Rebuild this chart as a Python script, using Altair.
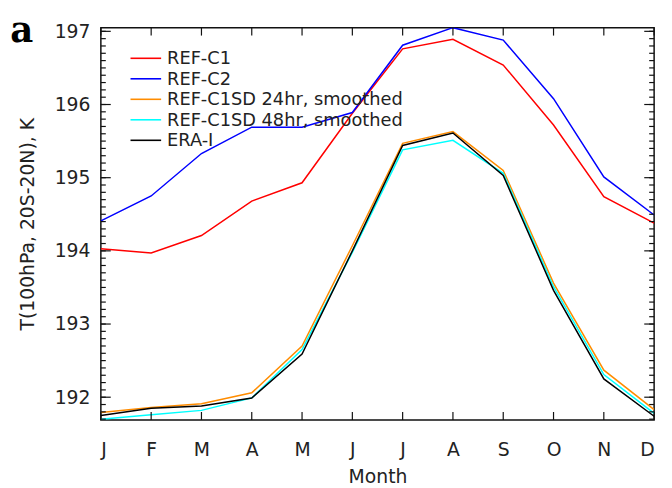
import altair as alt
import pandas as pd
import numpy as np

month_labels = ["J", "F", "M", "A", "M", "J", "J", "A", "S", "O", "N", "D"]
month_num = list(range(1, 13))

series_names = ["REF-C1", "REF-C2", "REF-C1SD 24hr, smoothed",
                "REF-C1SD 48hr, smoothed", "ERA-I"]
series_colors = ["#ff0000", "#0000ff", "#ff8c00", "#00ffff", "#000000"]

ref_c1 = [194.03, 193.97, 194.21, 194.68, 194.93, 195.88, 196.76, 196.89, 196.54, 195.72, 194.74, 194.38]
ref_c2 = [194.41, 194.75, 195.33, 195.69, 195.69, 195.89, 196.81, 197.05, 196.88, 196.08, 195.01, 194.49]
ref_c1sd_24 = [191.79, 191.86, 191.91, 192.06, 192.70, 194.07, 195.47, 195.63, 195.10, 193.56, 192.37, 191.83]
ref_c1sd_48 = [191.70, 191.76, 191.82, 191.99, 192.65, 193.98, 195.38, 195.51, 195.06, 193.51, 192.31, 191.78]
era_i = [191.75, 191.85, 191.88, 191.99, 192.59, 194.00, 195.44, 195.61, 195.03, 193.46, 192.25, 191.74]

y_major = [192, 193, 194, 195, 196, 197]
y_minor = [round(v, 1) for v in np.arange(191.7, 197.05, 0.1)]
y_domain = [191.69, 197.05]

all_values = [ref_c1, ref_c2, ref_c1sd_24, ref_c1sd_48, era_i]
rows = []
for order, (name, vals) in enumerate(zip(series_names, all_values)):
    for m, v in zip(month_num, vals):
        rows.append({"month": m, "T": v, "series": name, "order": order})
df = pd.DataFrame(rows)
legend_df = pd.DataFrame({"series": series_names})

W, H = 560, 397
FONT = "DejaVu Sans"
TXT = "#222222"

label_expr = "[" + ",".join("'%s'" % s for s in month_labels) + "][datum.value - 1]"

x_scale = alt.Scale(domain=[1, 12], nice=False, zero=False)
y_scale = alt.Scale(domain=y_domain, nice=False, zero=False)
color_scale = alt.Scale(domain=series_names, range=series_colors)

lines = alt.Chart(df).mark_line(strokeWidth=1.5, clip=True).encode(
    x=alt.X("month:Q", scale=x_scale,
            axis=alt.Axis(values=month_num, labelExpr=label_expr, title="Month",
                          ticks=False, domain=False, grid=False, labelPadding=21,
                          labelFontSize=19, titleFontSize=19, titlePadding=8,
                          labelFont=FONT, titleFont=FONT, labelColor=TXT,
                          titleColor=TXT, titleFontWeight="normal")),
    y=alt.Y("T:Q", scale=y_scale,
            axis=alt.Axis(values=y_major, format="d", title="T(100hPa, 20S-20N), K",
                          ticks=False, domain=False, grid=False, labelPadding=11,
                          labelFontSize=19, titleFontSize=19, titlePadding=17,
                          labelFont=FONT, titleFont=FONT, labelColor=TXT,
                          titleColor=TXT, titleFontWeight="normal")),
    color=alt.Color("series:N", scale=color_scale, legend=None),
    order=alt.Order("order:Q"),
    detail="series:N",
)

ymaj_df = pd.DataFrame({"v": y_major})
ymin_df = pd.DataFrame({"v": y_minor})
x_df = pd.DataFrame({"m": month_num})
tick_color = "#111111"

def yticks(data, length, right):
    if right:
        xa, xb = W - length, W
    else:
        xa, xb = 0, length
    return alt.Chart(data).mark_rule(color=tick_color, strokeWidth=1.2).encode(
        y=alt.Y("v:Q", scale=y_scale), x=alt.value(xa), x2=alt.value(xb))

def xticks(length, top):
    if top:
        ya, yb = 0, length
    else:
        ya, yb = H - length, H
    return alt.Chart(x_df).mark_rule(color=tick_color, strokeWidth=1.2).encode(
        x=alt.X("m:Q", scale=x_scale), y=alt.value(ya), y2=alt.value(yb))

panel_label = alt.Chart(pd.DataFrame({"t": ["a"]})).mark_text(
    font="DejaVu Serif", fontWeight="bold", fontSize=36, color="#000000",
    align="center", baseline="alphabetic").encode(
    text="t:N", x=alt.value(-80), y=alt.value(14))

leg_y = alt.Y("series:N", axis=None,
              scale=alt.Scale(type="point", domain=series_names, range=[31, 114], padding=0))
legend_lines = alt.Chart(legend_df).mark_rule(strokeWidth=1.6).encode(
    y=leg_y, x=alt.value(30), x2=alt.value(61),
    color=alt.Color("series:N", scale=color_scale, legend=None))
legend_text = alt.Chart(legend_df).mark_text(
    align="left", baseline="middle", font=FONT, fontSize=18, color=TXT, dy=1).encode(
    y=leg_y, x=alt.value(67), text="series:N")
legend = alt.layer(legend_lines, legend_text)

main = alt.layer(
    lines,
    yticks(ymin_df, 5, False), yticks(ymaj_df, 10, False),
    yticks(ymin_df, 5, True), yticks(ymaj_df, 10, True),
    xticks(8, False), xticks(8, True),
)

chart = alt.layer(main, legend, panel_label).resolve_scale(y="independent").properties(
    width=W, height=H,
    autosize=alt.AutoSizeParams(type="none"),
    padding={"left": 94, "top": 17, "right": 10, "bottom": 64},
).configure_view(stroke="#111111", strokeWidth=1.5)

chart.save("out.html", embed_options={"renderer": "svg", "actions": False})
